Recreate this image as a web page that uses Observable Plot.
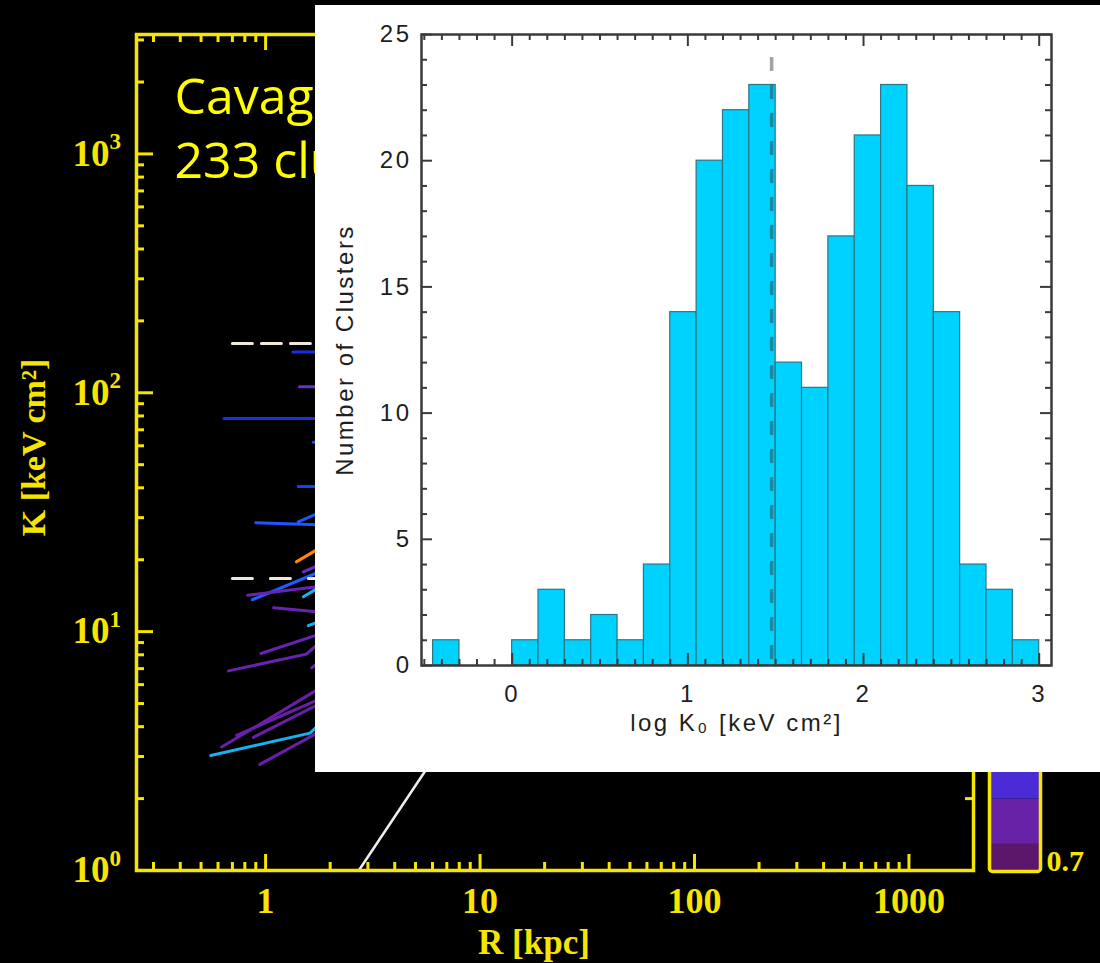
<!DOCTYPE html>
<html><head><meta charset="utf-8">
<script src="https://cdn.jsdelivr.net/npm/d3@7"></script>
<script src="https://cdn.jsdelivr.net/npm/@observablehq/plot@0.6"></script>
<style>
html,body{margin:0;padding:0;background:#000;}
#wrap{position:relative;width:1100px;height:963px;overflow:hidden;background:#000;}
#wrap > svg{position:absolute;display:block;}
</style></head><body><div id="wrap"></div>
<script>
// ================= MAIN CHART DATA (entropy profiles) =================
const xMajorTicks = [1, 10, 100, 1000];
const xTickLabels = ["1", "10", "100", "1000"];
const yMajorTicks = [1, 10, 100, 1000];
const yTickBase = "10";
const yTickExponents = ["0", "1", "2", "3"];
const decadeMultipliers = [2, 3, 4, 5, 6, 7, 8, 9];
const xLabel = "R [kpc]";
const yLabel = "K [keV cm²]";
// annotation as visible (the rest is hidden behind the inset)
const noteLines = ["Cavag", "233 clu"];

// each profile: color, radii (kpc), entropies (keV cm^2)
const profileColor = [
  "#1a2ee6", "#6633cc", "#1a2ee6", "#1f4dff", "#1a40f5",
  "#1f55ff", "#1f55ff", "#ff8800", "#6a2cc8", "#1f5cff",
  "#6a22b4", "#18b0f2", "#6a22b4", "#18b0f2", "#6a22b4",
  "#6a22b4", "#6a22b4", "#6a1fa8", "#6a1fa8", "#6a1fa8",
  "#6a1fa8", "#18b0f2"
];
const profileR = [
  [1.34, 2.3], [1.44, 2.3], [0.64, 2.3], [1.67, 2.3], [1.42, 2.3],
  [0.90, 1.73, 2.3], [1.42, 1.73, 2.3], [1.39, 1.73, 2.3], [1.50, 1.73, 2.3], [0.867, 1.73, 2.3],
  [0.825, 1.73, 2.3], [1.50, 1.73, 2.3], [1.09, 1.73, 2.3], [1.58, 1.73, 2.3], [0.95, 1.73, 2.3],
  [0.671, 1.55, 1.73, 2.3], [1.64, 1.73, 2.3], [0.624, 1.73, 2.3], [0.733, 1.73, 2.3], [0.877, 1.73, 2.3],
  [0.94, 1.73, 2.3], [0.555, 1.61, 1.73, 2.3]
];
const profileK = [
  [148, 148], [106, 106], [78, 78], [62, 63], [40.5, 40.5],
  [28.6, 28.0, 28.0], [28.8, 31.1, 34.8], [19.6, 22.0, 25.6], [17.8, 18.8, 21.0], [13.6, 17.6, 19.6],
  [14.2, 15.4, 15.9], [14.0, 15.1, 17.4], [12.6, 12.1, 12.0], [10.6, 10.9, 11.5], [8.10, 9.67, 10.5],
  [6.85, 8.05, 8.78, 11.0], [7.05, 7.31, 8.0], [3.29, 5.69, 6.63], [3.68, 5.16, 5.77], [3.61, 4.92, 5.61],
  [2.78, 3.75, 4.32], [3.03, 3.76, 3.99, 5.0]
];
const dashUpperR = [0.70, 2.3], dashUpperK = [161, 161];
const dashLowerR = [0.70, 2.3], dashLowerK = [16.7, 16.7];
const baselineR = [2.72, 5.47, 8.0], baselineK = [1.0, 2.56, 4.26];

// colour bar (visible lower part)
const cbarLow = [0.70, 0.76, 0.86, 0.96];
const cbarHigh = [0.76, 0.86, 0.96, 1.10];
const cbarColor = ["#5a176b", "#6822a8", "#4b2bd6", "#3f47f0"];
const cbarLabel = ["0.7"];

// ================= INSET HISTOGRAM DATA =================
const binStart = [-0.45, -0.30, -0.15, 0.00, 0.15, 0.30, 0.45, 0.60, 0.75, 0.90, 1.05, 1.20,
                  1.35, 1.50, 1.65, 1.80, 1.95, 2.10, 2.25, 2.40, 2.55, 2.70, 2.85];
const binCount = [1, 0, 0, 1, 3, 1, 2, 1, 4, 14, 20, 22,
                  23, 12, 11, 17, 21, 23, 19, 14, 4, 3, 1];
const binWidth = 0.15;
const k0Marker = [1.477];
const insetXTicks = [0, 1, 2, 3];
const insetXLabels = ["0", "1", "2", "3"];
const insetYTicks = [0, 5, 10, 15, 20, 25];
const insetYLabels = ["0", "5", "10", "15", "20", "25"];
const insetXLabel = "log K\u2080 [keV cm\u00B2]";
const insetYLabel = "Number of Clusters";

// ================= BUILD =================
const YEL = "#f6e500";
const wrap = document.getElementById("wrap");
const serif = "Liberation Serif, Times New Roman, serif";

const profileRows = [];
profileR.forEach((rs, i) => rs.forEach((r, j) => profileRows.push({id: i, R: r, K: profileK[i][j], color: profileColor[i]})));
const toRows = (rs, ks) => rs.map((r, i) => ({R: r, K: ks[i]}));

const inDomain = (v, lo, hi) => v > lo * 1.001 && v < hi * 0.999;
const xMinor = [0.1, 1, 10, 100, 1000].flatMap(d => decadeMultipliers.map(m => d * m)).filter(v => inDomain(v, 0.25, 2000));
const yMinor = [1, 10, 100, 1000].flatMap(d => decadeMultipliers.map(m => d * m)).filter(v => inDomain(v, 1, 3162));

const M = {l: 136, r: 127, t: 34, b: 93};
const FW = 1100 - M.l - M.r, FH = 963 - M.t - M.b;

const main = Plot.plot({
  width: 1100, height: 963,
  marginLeft: M.l, marginRight: M.r, marginTop: M.t, marginBottom: M.b,
  x: {type: "log", domain: [0.25, 2000], axis: null},
  y: {type: "log", domain: [1, 3162], axis: null},
  color: {type: "identity"},
  style: {background: "#000"},
  marks: [
    Plot.line(profileRows, {x: "R", y: "K", z: "id", stroke: "color", strokeWidth: 3}),
    Plot.line(toRows(dashUpperR, dashUpperK), {x: "R", y: "K", stroke: "#efe9dc", strokeWidth: 3, strokeDasharray: "20,9"}),
    Plot.line(toRows(dashLowerR, dashLowerK), {x: "R", y: "K", stroke: "#efe9dc", strokeWidth: 3, strokeDasharray: "20,18"}),
    Plot.line(toRows(baselineR, baselineK), {x: "R", y: "K", stroke: "#eeeeee", strokeWidth: 2.5}),
    // ticks (inward)
    Plot.ruleX(xMajorTicks, {stroke: YEL, strokeWidth: 3, insetTop: FH - 16}),
    Plot.ruleX(xMajorTicks, {stroke: YEL, strokeWidth: 3, insetBottom: FH - 16}),
    Plot.ruleX(xMinor, {stroke: YEL, strokeWidth: 3, insetTop: FH - 8}),
    Plot.ruleX(xMinor, {stroke: YEL, strokeWidth: 3, insetBottom: FH - 8}),
    Plot.ruleY(yMajorTicks, {stroke: YEL, strokeWidth: 3, insetRight: FW - 17}),
    Plot.ruleY(yMajorTicks, {stroke: YEL, strokeWidth: 3, insetLeft: FW - 17}),
    Plot.ruleY(yMinor, {stroke: YEL, strokeWidth: 3, insetRight: FW - 8}),
    Plot.ruleY(yMinor, {stroke: YEL, strokeWidth: 3, insetLeft: FW - 8}),
    Plot.frame({stroke: YEL, strokeWidth: 3.5}),
    // tick labels
    Plot.text(xMajorTicks, {x: d => d, text: (d, i) => xTickLabels[i], frameAnchor: "bottom", dy: 31, lineAnchor: "middle",
      fill: YEL, fontSize: 36, fontWeight: "bold", fontFamily: serif}),
    Plot.text(yMajorTicks, {y: d => d, text: () => yTickBase, frameAnchor: "left", dx: -27, textAnchor: "end", lineAnchor: "middle",
      fill: YEL, fontSize: 37, fontWeight: "bold", fontFamily: serif}),
    Plot.text(yMajorTicks, {y: d => d, text: (d, i) => yTickExponents[i], frameAnchor: "left", dx: -27, dy: -12, textAnchor: "start", lineAnchor: "middle",
      fill: YEL, fontSize: 23, fontWeight: "bold", fontFamily: serif}),
    // axis titles
    Plot.text([xLabel], {frameAnchor: "bottom", dx: -21, dy: 72.5, lineAnchor: "middle",
      fill: YEL, fontSize: 35, fontWeight: "bold", fontFamily: serif}),
    Plot.text([yLabel], {frameAnchor: "left", dx: -102, dy: -5, rotate: -90, textAnchor: "middle", lineAnchor: "middle",
      fill: YEL, fontSize: 34, fontWeight: "bold", fontFamily: serif}),
    // annotation
    Plot.text([noteLines.join("\n")], {frameAnchor: "top-left", dx: 38, dy: 34.5, lineAnchor: "top", textAnchor: "start",
      lineHeight: 1.28, fill: "#ffff00", fontSize: 50, fontFamily: "Open Sans"})
  ]
});
main.style.left = "0px"; main.style.top = "0px";
wrap.appendChild(main);

// colour bar
const cbarRows = cbarLow.map((lo, i) => ({lo, hi: cbarHigh[i], color: cbarColor[i]}));
const cbar = Plot.plot({
  width: 110, height: 190,
  marginLeft: 14, marginRight: 45, marginTop: 0, marginBottom: 9,
  x: {axis: null, padding: 0},
  y: {domain: [0.70, 1.10], axis: null},
  color: {type: "identity"},
  style: {background: "transparent", overflow: "visible"},
  marks: [
    Plot.barY(cbarRows, {x: () => "bar", y1: "lo", y2: "hi", fill: "color"}),
    Plot.frame({stroke: YEL, strokeWidth: 3.5, rx: 3}),
    Plot.text(cbarLabel, {frameAnchor: "bottom-right", dx: 6, dy: -10, textAnchor: "start", lineAnchor: "middle",
      fill: YEL, fontSize: 30, fontWeight: "bold", fontFamily: serif})
  ]
});
cbar.style.left = "975px"; cbar.style.top = "690px";
wrap.appendChild(cbar);

// inset histogram
const IW = 785, IH = 767;
const IM = {l: 106, r: 49, t: 29, b: 107};
const IFW = IW - IM.l - IM.r, IFH = IH - IM.t - IM.b;
const bins = binStart.map((s, i) => ({x0: s, x1: s + binWidth, count: binCount[i]})).filter(d => d.count > 0);
const insetXMinor = d3.range(-5, 31).map(i => i / 10).filter(v => Math.abs(v - Math.round(v)) > 1e-6);
const insetYMinor = d3.range(1, 25).filter(v => v % 5 !== 0);
const ISTROKE = "#3a3a3a";
const sans = "Liberation Sans, Arial, Helvetica, sans-serif";

const inset = Plot.plot({
  width: IW, height: IH,
  marginLeft: IM.l, marginRight: IM.r, marginTop: IM.t, marginBottom: IM.b,
  x: {domain: [-0.516, 3.07], axis: null},
  y: {domain: [0, 25], axis: null},
  style: {background: "#ffffff", letterSpacing: "2.5px"},
  marks: [
    Plot.rectY(bins, {x1: "x0", x2: "x1", y: "count", fill: "#00d2ff", stroke: "#2e7585", strokeWidth: 1.2}),
    Plot.ruleX(k0Marker, {stroke: "#333", strokeOpacity: 0.45, strokeWidth: 3.5, strokeDasharray: "14,14", insetTop: 23}),
    Plot.ruleX(insetXTicks, {stroke: ISTROKE, strokeWidth: 2, insetTop: IFH - 12}),
    Plot.ruleX(insetXTicks, {stroke: ISTROKE, strokeWidth: 2, insetBottom: IFH - 12}),
    Plot.ruleX(insetXMinor, {stroke: ISTROKE, strokeWidth: 2, insetTop: IFH - 6}),
    Plot.ruleX(insetXMinor, {stroke: ISTROKE, strokeWidth: 2, insetBottom: IFH - 6}),
    Plot.ruleY(insetYTicks, {stroke: ISTROKE, strokeWidth: 2, insetRight: IFW - 11}),
    Plot.ruleY(insetYTicks, {stroke: ISTROKE, strokeWidth: 2, insetLeft: IFW - 11}),
    Plot.ruleY(insetYMinor, {stroke: ISTROKE, strokeWidth: 2, insetRight: IFW - 6}),
    Plot.ruleY(insetYMinor, {stroke: ISTROKE, strokeWidth: 2, insetLeft: IFW - 6}),
    Plot.frame({stroke: ISTROKE, strokeWidth: 2.5}),
    Plot.text(insetXTicks, {x: d => d, text: (d, i) => insetXLabels[i], frameAnchor: "bottom", dy: 29, lineAnchor: "middle",
      fill: "#1e1e1e", fontSize: 24, fontFamily: sans}),
    Plot.text(insetYTicks, {y: d => d, text: (d, i) => insetYLabels[i], frameAnchor: "left", dx: -10, textAnchor: "end", lineAnchor: "middle",
      fill: "#1e1e1e", fontSize: 24, fontFamily: sans}),
    Plot.text([insetXLabel], {frameAnchor: "bottom", dy: 58, lineAnchor: "middle", fill: "#1e1e1e", fontSize: 24, fontFamily: sans}),
    Plot.text([insetYLabel], {frameAnchor: "left", dx: -76, rotate: -90, textAnchor: "middle", lineAnchor: "middle", fill: "#1e1e1e", fontSize: 24, fontFamily: sans})
  ]
});
inset.style.left = "315px"; inset.style.top = "5px";
wrap.appendChild(inset);
</script></body></html>
